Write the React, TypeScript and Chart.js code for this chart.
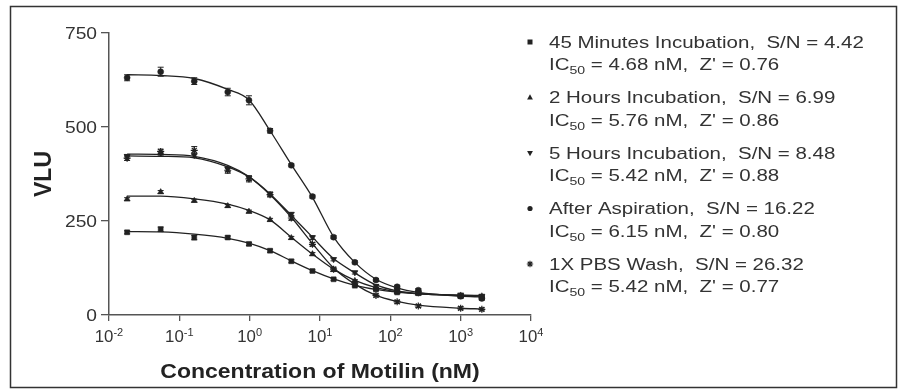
import React, { useEffect, useRef } from 'react';
import { Chart, registerables } from 'chart.js';

Chart.register(...registerables);

// ---------- data ----------
const concentrations = [0.0181, 0.0543, 0.163, 0.488, 0.977, 1.95, 3.91, 7.81, 15.6, 31.3, 62.5, 125, 250, 1000, 2000];
const xTickExponents = [-2, -1, 0, 1, 2, 3, 4];
const yTicks = [0, 250, 500, 750];

const seriesLabels = ['45 Minutes Incubation', '2 Hours Incubation', '5 Hours Incubation', 'After Aspiration', '1X PBS Wash'];
const signalToNoise = ['4.42', '6.99', '8.48', '16.22', '26.32'];
const ic50Values = ['4.68', '5.76', '5.42', '6.15', '5.42'];
const zPrimeValues = ['0.76', '0.86', '0.88', '0.80', '0.77'];
const markerStyles = ['rect', 'triangle', 'triangleDown', 'circle', 'star'];

const min45 = [220, 228, 206, 206, 189, 171, 143, 117, 95, 78, 68, 60, 58, 50, 46];
const min45Fit = [222, 221, 215, 204, 191, 171, 144, 118, 96, 79, 68, 61, 57, 53, 52];
const min45Err = [4, 6, 6, 4, 4, 4, 4, 3, 3, 3, 3, 3, 3, 5, 5];

const hours2 = [308, 327, 304, 290, 275, 253, 205, 162, 120, 91, 71, 62, 57, 52, 50];
const hours2Fit = [316, 316, 309, 295, 278, 253, 207, 162, 122, 92, 73, 62, 56, 52, 51];
const hours2Err = [4, 4, 4, 4, 4, 4, 4, 4, 4, 3, 3, 3, 3, 3, 3];

const hours5 = [422, 430, 425, 388, 364, 322, 268, 206, 148, 113, 77, 65, 59, 53, 50];
const hours5Fit = [428, 427, 422, 398, 368, 322, 265, 207, 150, 112, 80, 64, 57, 52, 51];
const hours5Err = [5, 5, 6, 6, 6, 5, 5, 5, 4, 4, 4, 4, 4, 5, 5];

const aspiration = [631, 647, 622, 593, 571, 490, 398, 315, 207, 140, 93, 75, 66, 50, 44];
const aspirationFit = [639, 637, 629, 600, 572, 490, 400, 313, 208, 140, 95, 72, 60, 50, 48];
const aspirationErr = [8, 12, 9, 10, 12, 6, 4, 4, 4, 4, 4, 4, 4, 4, 4];

const pbsWash = [417, 435, 438, 385, 362, 320, 258, 188, 122, 85, 52, 35, 24, 18, 15];
const pbsWashFit = [423, 422, 418, 394, 367, 320, 260, 190, 125, 82, 52, 36, 26, 18, 16];
const pbsWashErr = [6, 6, 10, 8, 8, 6, 6, 5, 5, 4, 4, 4, 4, 4, 4];

const measured = [min45, hours2, hours5, aspiration, pbsWash];
const fitted = [min45Fit, hours2Fit, hours5Fit, aspirationFit, pbsWashFit];
const errors = [min45Err, hours2Err, hours5Err, aspirationErr, pbsWashErr];

// ---------- drawing helpers ----------
const FAMILY = '"Liberation Sans", Arial, sans-serif';
const INK = '#222';

type Seg = { t: string; size: number; bold?: boolean; dy?: number };

function fontOf(s: Seg) {
  return `${s.bold ? 'bold ' : ''}${s.size}px ${FAMILY}`;
}

function drawRich(ctx: CanvasRenderingContext2D, segs: Seg[], x: number, y: number, align: 'left' | 'center' | 'right', sx = 1) {
  ctx.save();
  let total = 0;
  const widths = segs.map((s) => {
    ctx.font = fontOf(s);
    const w = ctx.measureText(s.t).width;
    total += w;
    return w;
  });
  let x0 = align === 'left' ? x : align === 'center' ? x - (total * sx) / 2 : x - total * sx;
  ctx.translate(x0, y);
  ctx.scale(sx, 1);
  ctx.textBaseline = 'alphabetic';
  ctx.textAlign = 'left';
  let cx = 0;
  segs.forEach((s, i) => {
    ctx.font = fontOf(s);
    ctx.fillText(s.t, cx, s.dy || 0);
    cx += widths[i];
  });
  ctx.restore();
  return total * sx;
}

function drawMarker(ctx: CanvasRenderingContext2D, style: string, x: number, y: number) {
  ctx.save();
  ctx.fillStyle = INK;
  ctx.strokeStyle = INK;
  ctx.lineWidth = 1.1;
  ctx.beginPath();
  if (style === 'rect') {
    ctx.fillRect(x - 2.5, y - 2.5, 5, 5);
  } else if (style === 'triangle') {
    ctx.moveTo(x, y - 3.2);
    ctx.lineTo(x + 2.9, y + 2);
    ctx.lineTo(x - 2.9, y + 2);
    ctx.closePath();
    ctx.fill();
  } else if (style === 'triangleDown') {
    ctx.moveTo(x, y + 3.2);
    ctx.lineTo(x + 2.9, y - 2);
    ctx.lineTo(x - 2.9, y - 2);
    ctx.closePath();
    ctx.fill();
  } else if (style === 'circle') {
    ctx.arc(x, y, 2.6, 0, Math.PI * 2);
    ctx.fill();
  } else {
    const r = 3.2;
    for (let k = 0; k < 4; k++) {
      const a = (k * Math.PI) / 4;
      ctx.moveTo(x - Math.cos(a) * r, y - Math.sin(a) * r);
      ctx.lineTo(x + Math.cos(a) * r, y + Math.sin(a) * r);
    }
    ctx.stroke();
  }
  ctx.restore();
}

const errorBarPlugin = {
  id: 'errorBars',
  afterDatasetsDraw(chart: any) {
    const ctx: CanvasRenderingContext2D = chart.ctx;
    const xs = chart.scales.x;
    const ys = chart.scales.y;
    ctx.save();
    ctx.strokeStyle = INK;
    ctx.lineWidth = 1;
    measured.forEach((vals, si) => {
      vals.forEach((v, i) => {
        const e = errors[si][i];
        const px = xs.getPixelForValue(concentrations[i]);
        const top = ys.getPixelForValue(v + e);
        const bot = ys.getPixelForValue(v - e);
        ctx.beginPath();
        ctx.moveTo(px, top);
        ctx.lineTo(px, bot);
        ctx.moveTo(px - 3, top);
        ctx.lineTo(px + 3, top);
        ctx.moveTo(px - 3, bot);
        ctx.lineTo(px + 3, bot);
        ctx.stroke();
      });
    });
    ctx.restore();
  },
};

const textPlugin = {
  id: 'texts',
  afterDraw(chart: any) {
    const ctx: CanvasRenderingContext2D = chart.ctx;
    const xs = chart.scales.x;
    const ys = chart.scales.y;
    ctx.save();
    // frame
    ctx.strokeStyle = '#333';
    ctx.lineWidth = 1.5;
    ctx.strokeRect(10.5, 6.5, 886, 381);

    ctx.fillStyle = '#333';
    // y tick labels
    yTicks.forEach((v) => {
      const py = ys.getPixelForValue(v);
      drawRich(ctx, [{ t: String(v), size: 16 }], 97, py + 6, 'right', 1.2);
    });
    // x tick labels (powers of ten)
    xTickExponents.forEach((e) => {
      const px = xs.getPixelForValue(Math.pow(10, e));
      drawRich(ctx, [{ t: '10', size: 16 }, { t: String(e), size: 10.5, dy: -6 }], px, 341.5, 'center', 1.05);
    });

    ctx.fillStyle = INK;
    // axis titles
    drawRich(ctx, [{ t: 'Concentration of Motilin (nM)', size: 20, bold: true }], (chart.chartArea.left + chart.chartArea.right) / 2, 378, 'center', 1.15);
    ctx.save();
    ctx.translate(51, (chart.chartArea.top + chart.chartArea.bottom) / 2);
    ctx.rotate(-Math.PI / 2);
    drawRich(ctx, [{ t: 'VLU', size: 23, bold: true }], 0, 0, 'center', 1);
    ctx.restore();

    // legend
    seriesLabels.forEach((label, i) => {
      const rowY = 42 + i * 55.5;
      drawMarker(ctx, markerStyles[i], 530, rowY);
      ctx.fillStyle = '#333';
      drawRich(ctx, [{ t: `${label},  S/N = ${signalToNoise[i]}`, size: 16 }], 549, rowY + 5.5, 'left', 1.28);
      drawRich(
        ctx,
        [
          { t: 'IC', size: 16 },
          { t: '50', size: 11, dy: 4 },
          { t: ` = ${ic50Values[i]} nM,  Z' = ${zPrimeValues[i]}`, size: 16 },
        ],
        549,
        rowY + 28,
        'left',
        1.28
      );
    });
    ctx.restore();
  },
};

export default function App() {
  const ref = useRef<HTMLCanvasElement | null>(null);

  useEffect(() => {
    if (!ref.current) return;
    const datasets: any[] = [];
    fitted.forEach((vals) => {
      datasets.push({
        data: vals.map((v, i) => ({ x: concentrations[i], y: v })),
        showLine: true,
        pointRadius: 0,
        borderColor: INK,
        borderWidth: 1.3,
        cubicInterpolationMode: 'monotone',
        fill: false,
      });
    });
    measured.forEach((vals, si) => {
      const st = markerStyles[si];
      datasets.push({
        data: vals.map((v, i) => ({ x: concentrations[i], y: v })),
        showLine: false,
        pointStyle: st === 'triangleDown' ? 'triangle' : st,
        pointRotation: st === 'triangleDown' ? 180 : 0,
        pointRadius: st === 'circle' ? 3 : 3.5,
        pointBackgroundColor: INK,
        pointBorderColor: INK,
        pointBorderWidth: st === 'star' ? 1.2 : 0.5,
      });
    });

    const chart = new Chart(ref.current, {
      type: 'scatter',
      data: { datasets },
      options: {
        responsive: false,
        animation: false,
        devicePixelRatio: 1,
        layout: { padding: { left: 0, top: 33, right: 370, bottom: 0 } },
        plugins: { legend: { display: false }, tooltip: { enabled: false } },
        scales: {
          x: {
            type: 'logarithmic',
            min: 0.01,
            max: 10000,
            afterBuildTicks: (s: any) => {
              s.ticks = xTickExponents.map((e) => ({ value: Math.pow(10, e) }));
            },
            afterFit: (s: any) => {
              s.height = 75;
            },
            ticks: { display: false },
            grid: { display: true, drawOnChartArea: false, drawTicks: true, tickLength: 6, color: '#555', lineWidth: 1.3 },
            border: { display: true, color: '#555', width: 1.5 },
          },
          y: {
            type: 'linear',
            min: 0,
            max: 750,
            afterBuildTicks: (s: any) => {
              s.ticks = yTicks.map((v) => ({ value: v }));
            },
            afterFit: (s: any) => {
              s.width = 109;
            },
            ticks: { display: false },
            grid: { display: true, drawOnChartArea: false, drawTicks: true, tickLength: 8, color: '#555', lineWidth: 1.3 },
            border: { display: true, color: '#555', width: 1.5 },
          },
        },
      } as any,
      plugins: [errorBarPlugin, textPlugin],
    });
    return () => chart.destroy();
  }, []);

  return (
    <div style={{ position: 'absolute', left: 0, top: 0, width: 901, height: 390, background: '#fff' }}>
      <canvas ref={ref} width={901} height={390} style={{ display: 'block', width: 901, height: 390 }} />
    </div>
  );
}
